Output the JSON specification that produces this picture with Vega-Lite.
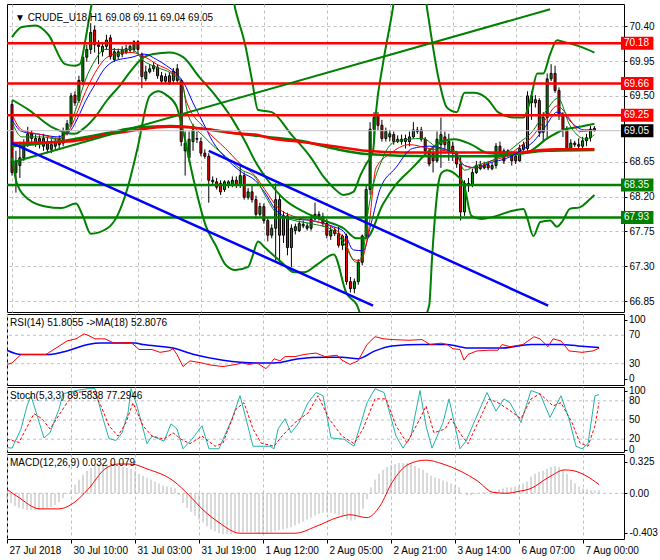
{
"$schema":"https://vega.github.io/schema/vega-lite/v6.json",
"background":"white",
"padding":{"left":3,"top":3,"right":0,"bottom":0},
"bounds":"flush",
"spacing":2,
"config":{
"view":{"stroke":"black","strokeWidth":1},
"font":"Liberation Sans",
"axis":{"labelFont":"Liberation Sans","labelFontSize":10,"labelColor":"black","gridColor":"#c0c0c0","gridDash":[3,3],"gridWidth":1,"domain":false,"tickColor":"black"},
"text":{"font":"Liberation Sans","fontSize":10,"color":"black","align":"left","baseline":"top"}
},
"datasets":{
"candles":[
{"i":0,"open":69.39,"high":69.44,"low":68.47,"close":68.51},
{"i":1,"open":68.51,"high":68.79,"low":68.25,"close":68.66},
{"i":2,"open":68.6,"high":68.91,"low":68.44,"close":68.7},
{"i":3,"open":68.7,"high":68.94,"low":68.66,"close":68.85},
{"i":4,"open":68.87,"high":69.1,"low":68.84,"close":69.01},
{"i":5,"open":69.01,"high":69.06,"low":68.89,"close":68.95},
{"i":6,"open":68.89,"high":69.0,"low":68.84,"close":68.95},
{"i":7,"open":68.95,"high":68.99,"low":68.82,"close":68.89},
{"i":8,"open":68.95,"high":69.01,"low":68.79,"close":68.85},
{"i":9,"open":68.91,"high":68.96,"low":68.76,"close":68.81},
{"i":10,"open":68.81,"high":68.94,"low":68.76,"close":68.87},
{"i":11,"open":68.85,"high":68.96,"low":68.81,"close":68.91},
{"i":12,"open":68.94,"high":68.99,"low":68.82,"close":68.87},
{"i":13,"open":68.89,"high":69.09,"low":68.85,"close":69.04},
{"i":14,"open":69.01,"high":69.19,"low":68.99,"close":69.14},
{"i":15,"open":69.14,"high":69.54,"low":69.1,"close":69.5},
{"i":16,"open":69.51,"high":69.56,"low":69.37,"close":69.41},
{"i":17,"open":69.44,"high":69.76,"low":69.41,"close":69.7},
{"i":18,"open":69.69,"high":70.04,"low":69.64,"close":70.0},
{"i":19,"open":70.0,"high":70.16,"low":69.94,"close":70.1},
{"i":20,"open":70.1,"high":70.44,"low":70.04,"close":70.32},
{"i":21,"open":70.35,"high":70.41,"low":70.06,"close":70.16},
{"i":22,"open":70.16,"high":70.22,"low":69.91,"close":70.14},
{"i":23,"open":70.07,"high":70.19,"low":70.01,"close":70.14},
{"i":24,"open":70.14,"high":70.29,"low":70.1,"close":70.22},
{"i":25,"open":70.25,"high":70.29,"low":69.97,"close":70.01},
{"i":26,"open":69.97,"high":70.12,"low":69.94,"close":70.07},
{"i":27,"open":70.01,"high":70.11,"low":69.97,"close":70.07},
{"i":28,"open":70.04,"high":70.14,"low":70.0,"close":70.1},
{"i":29,"open":70.06,"high":70.16,"low":70.04,"close":70.11},
{"i":30,"open":70.09,"high":70.16,"low":70.06,"close":70.14},
{"i":31,"open":70.1,"high":70.22,"low":70.06,"close":70.2},
{"i":32,"open":70.2,"high":70.22,"low":70.04,"close":70.1},
{"i":33,"open":70.04,"high":70.06,"low":69.6,"close":69.75},
{"i":34,"open":69.72,"high":69.89,"low":69.69,"close":69.81},
{"i":35,"open":69.81,"high":69.91,"low":69.79,"close":69.85},
{"i":36,"open":69.85,"high":69.94,"low":69.81,"close":69.89},
{"i":37,"open":69.87,"high":69.91,"low":69.72,"close":69.76},
{"i":38,"open":69.76,"high":69.81,"low":69.66,"close":69.69},
{"i":39,"open":69.69,"high":69.79,"low":69.66,"close":69.75},
{"i":40,"open":69.76,"high":69.81,"low":69.64,"close":69.66},
{"i":41,"open":69.7,"high":69.86,"low":69.66,"close":69.82},
{"i":42,"open":69.85,"high":69.91,"low":69.66,"close":69.7},
{"i":43,"open":69.7,"high":69.72,"low":68.85,"close":68.91},
{"i":44,"open":68.79,"high":69.04,"low":68.47,"close":68.89},
{"i":45,"open":68.7,"high":69.04,"low":68.64,"close":68.94},
{"i":46,"open":68.91,"high":69.14,"low":68.79,"close":69.06},
{"i":47,"open":68.94,"high":69.04,"low":68.89,"close":68.95},
{"i":48,"open":68.91,"high":68.96,"low":68.72,"close":68.76},
{"i":49,"open":68.76,"high":68.81,"low":68.69,"close":68.72},
{"i":50,"open":68.72,"high":68.76,"low":68.12,"close":68.41},
{"i":51,"open":68.39,"high":68.46,"low":68.34,"close":68.41},
{"i":52,"open":68.39,"high":68.44,"low":68.29,"close":68.32},
{"i":53,"open":68.37,"high":68.41,"low":68.22,"close":68.26},
{"i":54,"open":68.29,"high":68.41,"low":68.26,"close":68.39},
{"i":55,"open":68.35,"high":68.41,"low":68.31,"close":68.39},
{"i":56,"open":68.35,"high":68.46,"low":68.32,"close":68.41},
{"i":57,"open":68.41,"high":68.46,"low":68.31,"close":68.35},
{"i":58,"open":68.35,"high":68.6,"low":68.31,"close":68.47},
{"i":59,"open":68.47,"high":68.51,"low":68.16,"close":68.19},
{"i":60,"open":68.19,"high":68.31,"low":68.16,"close":68.26},
{"i":61,"open":68.26,"high":68.34,"low":68.12,"close":68.16},
{"i":62,"open":68.16,"high":68.21,"low":67.91,"close":67.97},
{"i":63,"open":67.97,"high":68.12,"low":67.94,"close":68.07},
{"i":64,"open":68.07,"high":68.11,"low":67.85,"close":67.89},
{"i":65,"open":67.89,"high":67.92,"low":67.62,"close":67.7},
{"i":66,"open":67.7,"high":67.84,"low":67.66,"close":67.79},
{"i":67,"open":67.79,"high":68.37,"low":67.37,"close":68.16},
{"i":68,"open":68.16,"high":68.22,"low":67.35,"close":67.7},
{"i":69,"open":67.7,"high":68.01,"low":67.6,"close":67.95},
{"i":70,"open":67.95,"high":67.99,"low":67.44,"close":67.54},
{"i":71,"open":67.54,"high":67.84,"low":67.29,"close":67.79},
{"i":72,"open":67.76,"high":67.85,"low":67.71,"close":67.81},
{"i":73,"open":67.76,"high":67.89,"low":67.74,"close":67.85},
{"i":74,"open":67.82,"high":67.89,"low":67.79,"close":67.84},
{"i":75,"open":67.79,"high":67.86,"low":67.76,"close":67.82},
{"i":76,"open":67.79,"high":67.96,"low":67.76,"close":67.91},
{"i":77,"open":67.91,"high":68.12,"low":67.89,"close":67.97},
{"i":78,"open":67.97,"high":68.01,"low":67.89,"close":67.94},
{"i":79,"open":67.94,"high":67.99,"low":67.81,"close":67.85},
{"i":80,"open":67.85,"high":67.91,"low":67.66,"close":67.7},
{"i":81,"open":67.69,"high":67.81,"low":67.64,"close":67.76},
{"i":82,"open":67.76,"high":67.8,"low":67.69,"close":67.72},
{"i":83,"open":67.72,"high":67.81,"low":67.54,"close":67.57},
{"i":84,"open":67.57,"high":67.71,"low":67.51,"close":67.69},
{"i":85,"open":67.69,"high":67.72,"low":67.06,"close":67.1},
{"i":86,"open":67.1,"high":67.16,"low":66.96,"close":67.01},
{"i":87,"open":67.01,"high":67.14,"low":66.95,"close":67.1},
{"i":88,"open":67.1,"high":67.39,"low":67.06,"close":67.35},
{"i":89,"open":67.35,"high":67.71,"low":67.31,"close":67.69},
{"i":90,"open":67.69,"high":68.35,"low":67.66,"close":68.29},
{"i":91,"open":68.29,"high":69.16,"low":68.22,"close":69.07},
{"i":92,"open":69.07,"high":69.29,"low":68.91,"close":69.22},
{"i":93,"open":69.25,"high":69.29,"low":69.06,"close":69.12},
{"i":94,"open":69.12,"high":69.19,"low":68.91,"close":68.95},
{"i":95,"open":68.95,"high":69.09,"low":68.91,"close":69.04},
{"i":96,"open":68.97,"high":69.06,"low":68.91,"close":69.01},
{"i":97,"open":69.0,"high":69.04,"low":68.87,"close":68.91},
{"i":98,"open":68.91,"high":68.99,"low":68.89,"close":68.94},
{"i":99,"open":68.94,"high":69.0,"low":68.87,"close":68.91},
{"i":100,"open":68.91,"high":69.0,"low":68.82,"close":68.95},
{"i":101,"open":68.91,"high":69.04,"low":68.85,"close":68.97},
{"i":102,"open":68.97,"high":69.16,"low":68.95,"close":69.06},
{"i":103,"open":69.04,"high":69.1,"low":69.01,"close":69.06},
{"i":104,"open":69.06,"high":69.1,"low":68.91,"close":68.94},
{"i":105,"open":68.94,"high":68.97,"low":68.75,"close":68.79},
{"i":106,"open":68.79,"high":68.82,"low":68.59,"close":68.62},
{"i":107,"open":68.76,"high":68.85,"low":68.51,"close":68.66},
{"i":108,"open":68.66,"high":69.04,"low":68.64,"close":68.94},
{"i":109,"open":68.87,"high":69.22,"low":68.57,"close":69.0},
{"i":110,"open":68.97,"high":69.04,"low":68.79,"close":68.87},
{"i":111,"open":68.79,"high":69.01,"low":68.66,"close":68.91},
{"i":112,"open":68.85,"high":68.91,"low":68.66,"close":68.76},
{"i":113,"open":68.76,"high":68.79,"low":68.57,"close":68.62},
{"i":114,"open":68.62,"high":68.72,"low":67.89,"close":68.0},
{"i":115,"open":68.0,"high":68.41,"low":67.95,"close":68.37},
{"i":116,"open":68.34,"high":68.44,"low":68.26,"close":68.37},
{"i":117,"open":68.35,"high":68.56,"low":68.32,"close":68.51},
{"i":118,"open":68.51,"high":68.66,"low":68.49,"close":68.6},
{"i":119,"open":68.56,"high":68.66,"low":68.54,"close":68.61},
{"i":120,"open":68.57,"high":68.65,"low":68.55,"close":68.61},
{"i":121,"open":68.61,"high":68.66,"low":68.54,"close":68.57},
{"i":122,"open":68.56,"high":68.64,"low":68.54,"close":68.6},
{"i":123,"open":68.6,"high":68.89,"low":68.56,"close":68.85},
{"i":124,"open":68.85,"high":68.91,"low":68.71,"close":68.75},
{"i":125,"open":68.79,"high":68.82,"low":68.62,"close":68.66},
{"i":126,"open":68.79,"high":68.81,"low":68.71,"close":68.76},
{"i":127,"open":68.76,"high":68.79,"low":68.6,"close":68.66},
{"i":128,"open":68.72,"high":68.76,"low":68.62,"close":68.66},
{"i":129,"open":68.66,"high":68.87,"low":68.65,"close":68.82},
{"i":130,"open":68.81,"high":68.91,"low":68.79,"close":68.87},
{"i":131,"open":68.82,"high":69.56,"low":68.79,"close":69.5},
{"i":132,"open":69.5,"high":69.56,"low":69.19,"close":69.41},
{"i":133,"open":69.41,"high":69.51,"low":69.35,"close":69.45},
{"i":134,"open":69.44,"high":69.47,"low":68.97,"close":69.03},
{"i":135,"open":69.03,"high":69.29,"low":68.91,"close":69.22},
{"i":136,"open":69.22,"high":69.79,"low":68.94,"close":69.72},
{"i":137,"open":69.72,"high":69.91,"low":69.69,"close":69.79},
{"i":138,"open":69.79,"high":69.89,"low":69.54,"close":69.57},
{"i":139,"open":69.57,"high":69.61,"low":69.19,"close":69.25},
{"i":140,"open":69.25,"high":69.29,"low":68.97,"close":69.07},
{"i":141,"open":69.07,"high":69.11,"low":68.79,"close":68.82},
{"i":142,"open":68.82,"high":68.94,"low":68.79,"close":68.89},
{"i":143,"open":68.89,"high":68.92,"low":68.84,"close":68.87},
{"i":144,"open":68.87,"high":68.95,"low":68.81,"close":68.85},
{"i":145,"open":68.85,"high":68.97,"low":68.81,"close":68.92},
{"i":146,"open":68.92,"high":69.01,"low":68.85,"close":68.96},
{"i":147,"open":68.96,"high":69.11,"low":68.91,"close":69.07},
{"i":148,"open":69.08,"high":69.11,"low":69.04,"close":69.05}
],
"blueThin":[{"i":0,"v":69.19},{"i":2.5,"v":69.04},{"i":7.5,"v":69.0},{"i":11.75,"v":68.97},{"i":13.5,"v":69.01},{"i":15,"v":69.06},{"i":16.75,"v":69.22},{"i":18.75,"v":69.44},{"i":21,"v":69.64},{"i":23.5,"v":69.85},{"i":26,"v":69.95},{"i":30.5,"v":70.0},{"i":33.5,"v":70.04},{"i":36.75,"v":69.97},{"i":39.25,"v":69.89},{"i":41.75,"v":69.79},{"i":43.75,"v":69.66},{"i":46,"v":69.41},{"i":48.5,"v":69.16},{"i":51,"v":68.91},{"i":54.25,"v":68.7},{"i":58.5,"v":68.51},{"i":61.75,"v":68.41},{"i":64.25,"v":68.25},{"i":67.5,"v":68.0},{"i":71.75,"v":67.91},{"i":76,"v":67.89},{"i":81.75,"v":67.81},{"i":84.25,"v":67.75},{"i":86.75,"v":67.51},{"i":89.25,"v":67.5},{"i":91.25,"v":67.85},{"i":93.5,"v":68.29},{"i":97.5,"v":68.57},{"i":101.75,"v":68.82},{"i":106,"v":68.85},{"i":112.5,"v":68.75},{"i":115,"v":68.6},{"i":118,"v":68.57},{"i":121.75,"v":68.64},{"i":125.5,"v":68.69},{"i":129.25,"v":68.79},{"i":132.5,"v":68.91},{"i":135.5,"v":69.1},{"i":138.5,"v":69.29},{"i":140.5,"v":69.25},{"i":142.5,"v":69.14},{"i":145.5,"v":69.06},{"i":148,"v":69.06}],
"redThin":[{"i":0,"v":69.26},{"i":2.5,"v":69.06},{"i":7.5,"v":69.0},{"i":11.75,"v":68.95},{"i":13.5,"v":68.99},{"i":15,"v":69.1},{"i":16.75,"v":69.31},{"i":18.75,"v":69.56},{"i":21,"v":69.79},{"i":23.5,"v":69.97},{"i":26,"v":70.04},{"i":30.5,"v":70.06},{"i":33.5,"v":70.01},{"i":36.75,"v":69.91},{"i":40.5,"v":69.81},{"i":43.25,"v":69.66},{"i":44.25,"v":69.44},{"i":49.25,"v":69.07},{"i":54.25,"v":68.82},{"i":58.5,"v":68.6},{"i":61.75,"v":68.47},{"i":64.25,"v":68.29},{"i":67.5,"v":68.06},{"i":71.75,"v":67.94},{"i":76,"v":67.89},{"i":81.75,"v":67.79},{"i":84.25,"v":67.66},{"i":86.75,"v":67.39},{"i":88.5,"v":67.37},{"i":90.5,"v":67.72},{"i":92.5,"v":68.57},{"i":96,"v":68.75},{"i":101,"v":68.87},{"i":106,"v":68.82},{"i":112.5,"v":68.76},{"i":115,"v":68.6},{"i":118,"v":68.57},{"i":121.75,"v":68.66},{"i":125.5,"v":68.72},{"i":129.25,"v":68.85},{"i":131.75,"v":68.95},{"i":135.5,"v":69.19},{"i":138.5,"v":69.37},{"i":140.5,"v":69.29},{"i":142.5,"v":69.14},{"i":144.25,"v":69.04},{"i":148,"v":69.06}],
"greenThin":[{"i":0,"v":69.16},{"i":2.5,"v":68.97},{"i":7.5,"v":68.97},{"i":11.75,"v":68.94},{"i":13.5,"v":69.01},{"i":15,"v":69.16},{"i":16.75,"v":69.41},{"i":18.75,"v":69.72},{"i":21,"v":69.95},{"i":23.5,"v":70.1},{"i":26,"v":70.1},{"i":30.5,"v":70.1},{"i":33.5,"v":69.95},{"i":36.75,"v":69.87},{"i":40.5,"v":69.79},{"i":43.25,"v":69.66},{"i":44.75,"v":69.25},{"i":49.25,"v":68.95},{"i":54.25,"v":68.72},{"i":58.5,"v":68.54},{"i":61.75,"v":68.45},{"i":64.25,"v":68.22},{"i":67.5,"v":67.97},{"i":71.75,"v":67.89},{"i":76,"v":67.85},{"i":81.75,"v":67.76},{"i":84.25,"v":67.6},{"i":87.5,"v":67.35},{"i":89.25,"v":67.47},{"i":90,"v":67.82},{"i":94.25,"v":68.7},{"i":97.5,"v":68.91},{"i":104.25,"v":68.95},{"i":108.5,"v":68.82},{"i":112.5,"v":68.79},{"i":115,"v":68.54},{"i":118,"v":68.6},{"i":121.75,"v":68.66},{"i":125.5,"v":68.76},{"i":129.25,"v":68.91},{"i":131.75,"v":69.01},{"i":135.5,"v":69.29},{"i":138.75,"v":69.47},{"i":141.75,"v":69.12},{"i":144.25,"v":68.97},{"i":146,"v":68.94},{"i":148,"v":69.0}],
"redThick":[{"i":0,"v":68.89},{"i":14.25,"v":68.91},{"i":24.25,"v":69.0},{"i":31.75,"v":69.06},{"i":40,"v":69.1},{"i":50,"v":69.07},{"i":56,"v":69.02},{"i":61.75,"v":69.0},{"i":66,"v":68.95},{"i":74.25,"v":68.9},{"i":81.75,"v":68.85},{"i":90,"v":68.79},{"i":99.25,"v":68.77},{"i":115,"v":68.77},{"i":128.5,"v":68.77},{"i":134.25,"v":68.8},{"i":138.5,"v":68.81},{"i":148,"v":68.81}],
"greenThick":[{"i":0,"v":68.85},{"i":11.75,"v":68.91},{"i":24.25,"v":69.02},{"i":31.75,"v":69.09},{"i":40.5,"v":69.11},{"i":49.25,"v":69.07},{"i":57.5,"v":69.01},{"i":66.75,"v":68.96},{"i":74.25,"v":68.91},{"i":81.75,"v":68.82},{"i":90,"v":68.75},{"i":106.75,"v":68.72},{"i":123.5,"v":68.72},{"i":128.5,"v":68.75},{"i":136,"v":68.79},{"i":148,"v":68.8}],
"bbUpper":[{"i":0,"v":70.26},{"i":2.5,"v":70.39},{"i":6,"v":70.41},{"i":9.25,"v":70.29},{"i":13.5,"v":69.91},{"i":16,"v":69.89},{"i":17.25,"v":69.91},{"i":18.75,"v":70.25},{"i":20,"v":70.62},{"i":21.25,"v":70.91},{"i":36.75,"v":71.41},{"i":55.5,"v":70.91},{"i":56.75,"v":70.62},{"i":59.25,"v":70.16},{"i":61,"v":69.7},{"i":62.5,"v":69.32},{"i":66,"v":69.29},{"i":71,"v":69.0},{"i":76,"v":68.7},{"i":79.25,"v":68.45},{"i":81.75,"v":68.31},{"i":84.25,"v":68.22},{"i":86.75,"v":68.26},{"i":88.5,"v":68.47},{"i":90,"v":68.62},{"i":91.75,"v":68.79},{"i":92.5,"v":69.29},{"i":94.25,"v":69.91},{"i":96.75,"v":70.62},{"i":98,"v":71.04},{"i":104.25,"v":71.04},{"i":105.5,"v":70.62},{"i":108.5,"v":69.7},{"i":110.5,"v":69.35},{"i":113,"v":69.29},{"i":115,"v":69.54},{"i":117.5,"v":69.54},{"i":121,"v":69.45},{"i":123.5,"v":69.29},{"i":127.5,"v":69.22},{"i":130,"v":69.22},{"i":131.75,"v":69.45},{"i":133.5,"v":69.79},{"i":135,"v":69.79},{"i":136.75,"v":70.04},{"i":138.5,"v":70.22},{"i":140,"v":70.2},{"i":144.25,"v":70.14},{"i":148,"v":70.06}],
"bbMiddle":[{"i":0,"v":69.45},{"i":4.25,"v":69.32},{"i":10,"v":69.1},{"i":16,"v":69.01},{"i":18,"v":69.07},{"i":21,"v":69.22},{"i":24.25,"v":69.45},{"i":27.5,"v":69.64},{"i":30,"v":69.81},{"i":33.5,"v":70.0},{"i":36,"v":70.04},{"i":40,"v":70.06},{"i":43.5,"v":70.0},{"i":47.5,"v":69.75},{"i":51.75,"v":69.5},{"i":56,"v":69.2},{"i":59.25,"v":68.91},{"i":61.75,"v":68.66},{"i":65,"v":68.41},{"i":69.25,"v":68.16},{"i":74.25,"v":68.0},{"i":79.25,"v":67.89},{"i":84.25,"v":67.79},{"i":87.5,"v":67.66},{"i":90,"v":67.66},{"i":94.25,"v":68.1},{"i":97.5,"v":68.35},{"i":101.75,"v":68.57},{"i":106,"v":68.79},{"i":109.25,"v":68.91},{"i":112.5,"v":68.94},{"i":116.75,"v":68.87},{"i":121,"v":68.76},{"i":125,"v":68.75},{"i":129.25,"v":68.76},{"i":131.75,"v":68.79},{"i":136,"v":68.95},{"i":140,"v":69.06},{"i":144.25,"v":69.1},{"i":148,"v":69.14}],
"bbLower":[{"i":0,"v":68.7},{"i":1.25,"v":68.37},{"i":4.25,"v":68.16},{"i":8.5,"v":68.07},{"i":12.5,"v":68.05},{"i":16.25,"v":68.11},{"i":18,"v":67.95},{"i":20,"v":67.72},{"i":24.25,"v":67.79},{"i":26.75,"v":67.95},{"i":29.25,"v":68.29},{"i":31.75,"v":68.79},{"i":35,"v":69.5},{"i":37.25,"v":69.56},{"i":39.25,"v":69.51},{"i":41.75,"v":69.37},{"i":43.5,"v":69.04},{"i":46,"v":68.45},{"i":49.25,"v":67.82},{"i":51.75,"v":67.57},{"i":54.25,"v":67.32},{"i":56.75,"v":67.25},{"i":60,"v":67.29},{"i":61.25,"v":67.45},{"i":62.5,"v":67.62},{"i":64.25,"v":67.54},{"i":68.5,"v":67.35},{"i":71.75,"v":67.22},{"i":74.25,"v":67.22},{"i":77.5,"v":67.32},{"i":81.75,"v":67.45},{"i":85,"v":66.95},{"i":87.5,"v":66.81},{"i":90.5,"v":66.41},{"i":99.25,"v":66.16},{"i":106,"v":66.79},{"i":106.75,"v":67.41},{"i":107.5,"v":67.95},{"i":108.5,"v":68.41},{"i":109.25,"v":68.51},{"i":110.5,"v":68.54},{"i":113.5,"v":68.45},{"i":114.75,"v":68.37},{"i":116.75,"v":67.95},{"i":119.25,"v":67.91},{"i":122.5,"v":67.94},{"i":126.75,"v":68.01},{"i":130,"v":68.04},{"i":131,"v":67.91},{"i":132.5,"v":67.69},{"i":134.25,"v":67.87},{"i":136.75,"v":67.89},{"i":138.5,"v":67.81},{"i":140,"v":67.89},{"i":141.75,"v":68.04},{"i":144.25,"v":68.06},{"i":146.75,"v":68.16},{"i":148,"v":68.22}],
"trendGreen":[{"i":0,"v":68.64},{"i":136.75,"v":70.62}],
"channelLower":[{"i":0,"v":68.89},{"i":91.75,"v":66.79}],
"channelUpper":[{"i":50,"v":68.79},{"i":136.25,"v":66.79}],
"levels":[{"price":70.18,"kind":"resistance"},{"price":69.66,"kind":"resistance"},{"price":69.25,"kind":"resistance"},{"price":68.35,"kind":"support"},{"price":67.93,"kind":"support"}],
"bid":[{"price":69.05,"kind":"bid"}],
"rsiScale":[{"v":91,"label":"100"},{"v":70,"label":"70"},{"v":30,"label":"30"},{"v":9,"label":"0"}],
"stochScale":[{"v":95,"label":"100"},{"v":80,"label":"80"},{"v":50,"label":"50"},{"v":20,"label":"20"},{"v":3,"label":"0"}],
"rsi":[{"i":0,"v":29},{"i":1.25,"v":31},{"i":3.5,"v":43},{"i":9.75,"v":43},{"i":15,"v":62},{"i":17.25,"v":65},{"i":19.25,"v":72},{"i":20.25,"v":70},{"i":22,"v":65},{"i":24.5,"v":65},{"i":26.75,"v":59},{"i":31,"v":60},{"i":33,"v":50},{"i":36.25,"v":50},{"i":38.25,"v":46},{"i":40.5,"v":48},{"i":41.5,"v":51},{"i":42.5,"v":43},{"i":44,"v":26},{"i":45.75,"v":34},{"i":48.75,"v":31},{"i":51,"v":28},{"i":54,"v":26},{"i":57.25,"v":29},{"i":58.75,"v":31},{"i":60.5,"v":29},{"i":62.5,"v":31},{"i":64.75,"v":23},{"i":65.75,"v":29},{"i":66.75,"v":37},{"i":68.25,"v":34},{"i":69.5,"v":40},{"i":72,"v":40},{"i":74.25,"v":43},{"i":77.25,"v":45},{"i":79.5,"v":40},{"i":82.5,"v":42},{"i":83.75,"v":35},{"i":85.75,"v":29},{"i":87.75,"v":34},{"i":90,"v":57},{"i":92,"v":68},{"i":94.25,"v":65},{"i":96.25,"v":64},{"i":100.5,"v":63},{"i":103.75,"v":64},{"i":105.75,"v":57},{"i":108.5,"v":59},{"i":110,"v":57},{"i":111.5,"v":51},{"i":113.25,"v":50},{"i":114.25,"v":35},{"i":115.25,"v":43},{"i":117.5,"v":48},{"i":120.5,"v":49},{"i":122.75,"v":49},{"i":123.75,"v":57},{"i":125.75,"v":54},{"i":129,"v":57},{"i":131.75,"v":68},{"i":133.25,"v":65},{"i":135.25,"v":54},{"i":136.5,"v":65},{"i":138.5,"v":62},{"i":140.5,"v":48},{"i":143.75,"v":46},{"i":146.5,"v":48},{"i":148,"v":51.8}],
"rsiMa":[{"i":0,"v":49},{"i":3.5,"v":43},{"i":10.75,"v":43},{"i":15,"v":48},{"i":20.25,"v":57},{"i":23.5,"v":59},{"i":32,"v":59},{"i":34,"v":57},{"i":41.5,"v":52},{"i":46.75,"v":43},{"i":54,"v":35},{"i":62.5,"v":31},{"i":66.75,"v":31},{"i":73,"v":37},{"i":79.5,"v":39},{"i":83.75,"v":39},{"i":87.75,"v":37},{"i":92,"v":48},{"i":96.25,"v":55},{"i":103.75,"v":57},{"i":110,"v":57},{"i":115.25,"v":52},{"i":123.75,"v":52},{"i":131,"v":57},{"i":138.5,"v":57},{"i":142.75,"v":55},{"i":148,"v":52.8}],
"stochK":[{"i":0,"v":7},{"i":1.25,"v":6},{"i":3.5,"v":36},{"i":5,"v":72},{"i":6,"v":88},{"i":9.25,"v":22},{"i":10.75,"v":30},{"i":13,"v":67},{"i":14,"v":91},{"i":17.25,"v":96},{"i":20.25,"v":99},{"i":22,"v":99},{"i":24,"v":52},{"i":25.5,"v":21},{"i":27.25,"v":18},{"i":28.75,"v":30},{"i":30.25,"v":61},{"i":31,"v":99},{"i":32.5,"v":72},{"i":35,"v":13},{"i":36.25,"v":25},{"i":39.25,"v":17},{"i":41,"v":44},{"i":42.5,"v":36},{"i":44,"v":5},{"i":46.25,"v":20},{"i":48.75,"v":41},{"i":50.5,"v":5},{"i":53,"v":5},{"i":56.25,"v":52},{"i":58.25,"v":88},{"i":60,"v":46},{"i":61.5,"v":9},{"i":65.75,"v":9},{"i":66.75,"v":5},{"i":67.75,"v":36},{"i":69.5,"v":52},{"i":71,"v":30},{"i":73,"v":46},{"i":75.25,"v":77},{"i":77.25,"v":93},{"i":79,"v":88},{"i":81,"v":22},{"i":84.25,"v":20},{"i":86.75,"v":9},{"i":90,"v":77},{"i":92,"v":99},{"i":94.25,"v":93},{"i":97.25,"v":25},{"i":99,"v":6},{"i":101,"v":25},{"i":103.25,"v":96},{"i":104.75,"v":41},{"i":106.25,"v":6},{"i":109,"v":46},{"i":110.5,"v":83},{"i":113.25,"v":5},{"i":114.75,"v":17},{"i":116.75,"v":46},{"i":120,"v":93},{"i":122.25,"v":64},{"i":124.25,"v":83},{"i":125.75,"v":77},{"i":128.5,"v":46},{"i":131,"v":96},{"i":133.25,"v":91},{"i":135.75,"v":54},{"i":138.5,"v":88},{"i":140.5,"v":52},{"i":142.25,"v":9},{"i":143.75,"v":5},{"i":145.25,"v":13},{"i":147,"v":88},{"i":148,"v":89.6}],
"stochD":[{"i":0,"v":20},{"i":3,"v":15},{"i":6.75,"v":60},{"i":8.75,"v":52},{"i":10.75,"v":36},{"i":15,"v":77},{"i":17.25,"v":93},{"i":21.5,"v":96},{"i":23.5,"v":72},{"i":25.5,"v":41},{"i":27.75,"v":25},{"i":29.75,"v":46},{"i":31.5,"v":77},{"i":34,"v":41},{"i":36.25,"v":25},{"i":39.25,"v":20},{"i":41.5,"v":30},{"i":43.5,"v":20},{"i":45.75,"v":13},{"i":48.75,"v":25},{"i":52,"v":9},{"i":54,"v":14},{"i":57.25,"v":67},{"i":59.25,"v":77},{"i":61.5,"v":36},{"i":63.5,"v":14},{"i":66.75,"v":9},{"i":68.75,"v":25},{"i":72,"v":46},{"i":75.25,"v":61},{"i":77.75,"v":88},{"i":80.5,"v":52},{"i":83.75,"v":25},{"i":86.75,"v":13},{"i":89,"v":36},{"i":92,"v":83},{"i":94.75,"v":83},{"i":97.25,"v":41},{"i":100,"v":14},{"i":103.25,"v":52},{"i":104.75,"v":72},{"i":106.75,"v":30},{"i":109.5,"v":36},{"i":111,"v":52},{"i":113.75,"v":25},{"i":115.25,"v":13},{"i":118.5,"v":56},{"i":120.5,"v":83},{"i":122.75,"v":77},{"i":125.25,"v":67},{"i":128.5,"v":52},{"i":131,"v":83},{"i":133.25,"v":91},{"i":136.5,"v":72},{"i":138.5,"v":77},{"i":141.25,"v":46},{"i":143.25,"v":14},{"i":145.25,"v":9},{"i":147,"v":41},{"i":148,"v":77.3}],
"macd":[{"i":0,"v":-0.06},{"i":1,"v":-0.1},{"i":2,"v":-0.13},{"i":3,"v":-0.15},{"i":4,"v":-0.16},{"i":5,"v":-0.17},{"i":6,"v":-0.17},{"i":7,"v":-0.17},{"i":8,"v":-0.17},{"i":9,"v":-0.16},{"i":10,"v":-0.15},{"i":11,"v":-0.14},{"i":12,"v":-0.12},{"i":13,"v":-0.09},{"i":14,"v":-0.05},{"i":15,"v":-0.01},{"i":16,"v":0.04},{"i":17,"v":0.09},{"i":18,"v":0.14},{"i":19,"v":0.19},{"i":20,"v":0.23},{"i":21,"v":0.26},{"i":22,"v":0.28},{"i":23,"v":0.29},{"i":24,"v":0.3},{"i":25,"v":0.3},{"i":26,"v":0.3},{"i":27,"v":0.29},{"i":28,"v":0.28},{"i":29,"v":0.27},{"i":30,"v":0.26},{"i":31,"v":0.25},{"i":32,"v":0.23},{"i":33,"v":0.2},{"i":34,"v":0.18},{"i":35,"v":0.16},{"i":36,"v":0.14},{"i":37,"v":0.12},{"i":38,"v":0.1},{"i":39,"v":0.08},{"i":40,"v":0.07},{"i":41,"v":0.06},{"i":42,"v":0.05},{"i":43,"v":-0.02},{"i":44,"v":-0.1},{"i":45,"v":-0.15},{"i":46,"v":-0.19},{"i":47,"v":-0.23},{"i":48,"v":-0.27},{"i":49,"v":-0.3},{"i":50,"v":-0.34},{"i":51,"v":-0.37},{"i":52,"v":-0.39},{"i":53,"v":-0.41},{"i":54,"v":-0.42},{"i":55,"v":-0.42},{"i":56,"v":-0.42},{"i":57,"v":-0.41},{"i":58,"v":-0.4},{"i":59,"v":-0.4},{"i":60,"v":-0.4},{"i":61,"v":-0.4},{"i":62,"v":-0.4},{"i":63,"v":-0.41},{"i":64,"v":-0.41},{"i":65,"v":-0.41},{"i":66,"v":-0.4},{"i":67,"v":-0.39},{"i":68,"v":-0.38},{"i":69,"v":-0.37},{"i":70,"v":-0.36},{"i":71,"v":-0.35},{"i":72,"v":-0.33},{"i":73,"v":-0.31},{"i":74,"v":-0.29},{"i":75,"v":-0.27},{"i":76,"v":-0.25},{"i":77,"v":-0.23},{"i":78,"v":-0.21},{"i":79,"v":-0.2},{"i":80,"v":-0.2},{"i":81,"v":-0.2},{"i":82,"v":-0.21},{"i":83,"v":-0.22},{"i":84,"v":-0.24},{"i":85,"v":-0.27},{"i":86,"v":-0.28},{"i":87,"v":-0.27},{"i":88,"v":-0.23},{"i":89,"v":-0.16},{"i":90,"v":-0.06},{"i":91,"v":0.06},{"i":92,"v":0.14},{"i":93,"v":0.2},{"i":94,"v":0.24},{"i":95,"v":0.27},{"i":96,"v":0.29},{"i":97,"v":0.3},{"i":98,"v":0.31},{"i":99,"v":0.31},{"i":100,"v":0.31},{"i":101,"v":0.3},{"i":102,"v":0.28},{"i":103,"v":0.26},{"i":104,"v":0.24},{"i":105,"v":0.21},{"i":106,"v":0.18},{"i":107,"v":0.16},{"i":108,"v":0.15},{"i":109,"v":0.13},{"i":110,"v":0.12},{"i":111,"v":0.1},{"i":112,"v":0.08},{"i":113,"v":0.06},{"i":114,"v":0.0},{"i":115,"v":-0.02},{"i":116,"v":-0.02},{"i":117,"v":-0.01},{"i":118,"v":0.0},{"i":119,"v":0.01},{"i":120,"v":0.01},{"i":121,"v":0.01},{"i":122,"v":0.02},{"i":123,"v":0.04},{"i":124,"v":0.05},{"i":125,"v":0.06},{"i":126,"v":0.06},{"i":127,"v":0.07},{"i":128,"v":0.08},{"i":129,"v":0.1},{"i":130,"v":0.12},{"i":131,"v":0.17},{"i":132,"v":0.2},{"i":133,"v":0.22},{"i":134,"v":0.23},{"i":135,"v":0.25},{"i":136,"v":0.27},{"i":137,"v":0.28},{"i":138,"v":0.27},{"i":139,"v":0.24},{"i":140,"v":0.2},{"i":141,"v":0.14},{"i":142,"v":0.1},{"i":143,"v":0.07},{"i":144,"v":0.05},{"i":145,"v":0.04},{"i":146,"v":0.03},{"i":147,"v":0.03},{"i":148,"v":0.032}],
"macdSignal":[{"i":0,"v":0.04},{"i":2.5,"v":-0.03},{"i":8.25,"v":-0.16},{"i":13,"v":-0.16},{"i":16.25,"v":-0.11},{"i":20.25,"v":0.04},{"i":24.5,"v":0.25},{"i":27.75,"v":0.3},{"i":31,"v":0.3},{"i":35,"v":0.25},{"i":41.5,"v":0.13},{"i":45.75,"v":-0.03},{"i":48.75,"v":-0.16},{"i":53,"v":-0.3},{"i":58.25,"v":-0.41},{"i":64.75,"v":-0.41},{"i":72,"v":-0.41},{"i":77.25,"v":-0.34},{"i":82.5,"v":-0.25},{"i":85.75,"v":-0.22},{"i":90,"v":-0.25},{"i":93.25,"v":-0.13},{"i":96.25,"v":0.11},{"i":100.5,"v":0.3},{"i":104.75,"v":0.34},{"i":109,"v":0.3},{"i":113.25,"v":0.23},{"i":117.5,"v":0.13},{"i":121.5,"v":0.01},{"i":124.75,"v":0.0},{"i":128,"v":0.02},{"i":131,"v":0.05},{"i":135.25,"v":0.16},{"i":139.5,"v":0.24},{"i":141.75,"v":0.23},{"i":144.75,"v":0.18},{"i":148,"v":0.09}]
},
"vconcat":[
{
"width":617,"height":308,
"layer":[
{"data":{"name":"candles"},"mark":{"type":"rule","color":"black","strokeWidth":1},
"encoding":{
"x":{"field":"i","type":"quantitative","scale":{"domain":[0,154.25],"nice":false,"zero":false},"axis":{"values":[0,8,16,24,32,40,48,56,64,72,80,88,96,104,112,120,128,136,144,152],"labels":false,"ticks":false,"domain":false,"grid":true,"title":null}},
"y":{"field":"low","type":"quantitative","scale":{"domain":[66.7725,70.6225],"nice":false,"zero":false},"axis":{"orient":"right","values":[70.4,69.95,69.5,68.65,68.2,67.75,67.3,66.85],"format":".2f","grid":true,"ticks":true,"tickSize":3,"labelPadding":2,"labelOverlap":false,"domain":false,"title":null}},
"y2":{"field":"high"}}},
{"data":{"name":"candles"},"mark":{"type":"bar","width":2,"stroke":"black","strokeWidth":1},
"encoding":{"x":{"field":"i","type":"quantitative"},"y":{"field":"open","type":"quantitative"},"y2":{"field":"close"},
"fill":{"condition":{"test":"datum.close >= datum.open","value":"#00a000"},"value":"#ff0000"}}},
{"data":{"name":"bbUpper"},"mark":{"type":"line","color":"#008000","strokeWidth":2,"interpolate":"monotone","clip":true},"encoding":{"x":{"field":"i","type":"quantitative"},"y":{"field":"v","type":"quantitative"}}},
{"data":{"name":"bbMiddle"},"mark":{"type":"line","color":"#008000","strokeWidth":2,"interpolate":"monotone","clip":true},"encoding":{"x":{"field":"i","type":"quantitative"},"y":{"field":"v","type":"quantitative"}}},
{"data":{"name":"bbLower"},"mark":{"type":"line","color":"#008000","strokeWidth":2,"interpolate":"monotone","clip":true},"encoding":{"x":{"field":"i","type":"quantitative"},"y":{"field":"v","type":"quantitative"}}},
{"data":{"name":"greenThick"},"mark":{"type":"line","color":"#008000","strokeWidth":2.5,"interpolate":"monotone","clip":true},"encoding":{"x":{"field":"i","type":"quantitative"},"y":{"field":"v","type":"quantitative"}}},
{"data":{"name":"redThick"},"mark":{"type":"line","color":"#ff0000","strokeWidth":2.5,"interpolate":"monotone","clip":true},"encoding":{"x":{"field":"i","type":"quantitative"},"y":{"field":"v","type":"quantitative"}}},
{"data":{"name":"blueThin"},"mark":{"type":"line","color":"#0000ff","strokeWidth":1,"interpolate":"monotone","clip":true},"encoding":{"x":{"field":"i","type":"quantitative"},"y":{"field":"v","type":"quantitative"}}},
{"data":{"name":"redThin"},"mark":{"type":"line","color":"#ff0000","strokeWidth":1,"interpolate":"monotone","clip":true},"encoding":{"x":{"field":"i","type":"quantitative"},"y":{"field":"v","type":"quantitative"}}},
{"data":{"name":"greenThin"},"mark":{"type":"line","color":"#008000","strokeWidth":1,"interpolate":"monotone","clip":true},"encoding":{"x":{"field":"i","type":"quantitative"},"y":{"field":"v","type":"quantitative"}}},
{"data":{"name":"bid"},"mark":{"type":"rule","color":"#c0c0c0","strokeWidth":1},"encoding":{"y":{"field":"price","type":"quantitative"}}},
{"data":{"name":"levels"},"mark":{"type":"rule","strokeWidth":2.5},"encoding":{"y":{"field":"price","type":"quantitative"},"color":{"field":"kind","type":"nominal","scale":{"domain":["resistance","support","bid"],"range":["#ff0000","#008000","#000000"]},"legend":null}}},
{"data":{"name":"trendGreen"},"mark":{"type":"line","color":"#008000","strokeWidth":2,"clip":true},"encoding":{"x":{"field":"i","type":"quantitative"},"y":{"field":"v","type":"quantitative"}}},
{"data":{"name":"channelLower"},"mark":{"type":"line","color":"#0000ff","strokeWidth":2.5,"clip":true},"encoding":{"x":{"field":"i","type":"quantitative"},"y":{"field":"v","type":"quantitative"}}},
{"data":{"name":"channelUpper"},"mark":{"type":"line","color":"#0000ff","strokeWidth":2.5,"clip":true},"encoding":{"x":{"field":"i","type":"quantitative"},"y":{"field":"v","type":"quantitative"}}},
{"data":{"name":"levels"},"mark":{"type":"bar","height":13},"encoding":{"x":{"datum":154.75},"x2":{"datum":163},"y":{"field":"price","type":"quantitative"},"color":{"field":"kind","type":"nominal","legend":null}}},
{"data":{"name":"bid"},"mark":{"type":"bar","height":13},"encoding":{"x":{"datum":154.75},"x2":{"datum":163},"y":{"field":"price","type":"quantitative"},"color":{"field":"kind","type":"nominal","legend":null}}},
{"data":{"name":"levels"},"mark":{"type":"text","color":"white","align":"left","baseline":"middle"},"encoding":{"x":{"datum":155.5},"y":{"field":"price","type":"quantitative"},"text":{"field":"price","format":".2f"}}},
{"data":{"name":"bid"},"mark":{"type":"text","color":"white","align":"left","baseline":"middle"},"encoding":{"x":{"datum":155.5},"y":{"field":"price","type":"quantitative"},"text":{"field":"price","format":".2f"}}},
{"data":{"values":[{"label":"▼ CRUDE_U18,H1  69.08 69.11 69.04 69.05"}]},"mark":{"type":"text","dy":4},"encoding":{"x":{"datum":0.75},"y":{"datum":70.6225},"text":{"field":"label"}}}
]
},
{
"width":617,"height":71,
"layer":[
{"data":{"values":[{"v":30},{"v":70}]},"mark":{"type":"rule","color":"#c0c0c0","strokeDash":[3,3],"strokeWidth":1},"encoding":{"y":{"field":"v","type":"quantitative","scale":{"domain":[0,100],"nice":false,"zero":false},"axis":{"orient":"right","values":[9,30,70,91],"labels":false,"grid":false,"tickSize":3,"title":null}}}},
{"data":{"name":"rsiMa"},"mark":{"type":"line","color":"#0000ff","strokeWidth":1.5,"interpolate":"monotone"},"encoding":{"x":{"field":"i","type":"quantitative","scale":{"domain":[0,154.25],"nice":false,"zero":false},"axis":{"values":[0,8,16,24,32,40,48,56,64,72,80,88,96,104,112,120,128,136,144,152],"labels":false,"ticks":false,"domain":false,"grid":true,"title":null}},"y":{"field":"v","type":"quantitative"}}},
{"data":{"name":"rsi"},"mark":{"type":"line","color":"#ff0000","strokeWidth":1},"encoding":{"x":{"field":"i","type":"quantitative"},"y":{"field":"v","type":"quantitative"}}},
{"data":{"name":"rsiScale"},"mark":{"type":"text","baseline":"middle"},"encoding":{"x":{"datum":155.5},"y":{"field":"v","type":"quantitative"},"text":{"field":"label"}}},
{"data":{"values":[{"label":"RSI(14) 51.8055  ->MA(18) 52.8076"}]},"mark":{"type":"text","dy":4},"encoding":{"x":{"datum":0.75},"y":{"datum":100},"text":{"field":"label"}}}
]
},
{
"width":617,"height":65,
"layer":[
{"data":{"values":[{"v":20},{"v":50},{"v":80}]},"mark":{"type":"rule","color":"#c0c0c0","strokeDash":[3,3],"strokeWidth":1},"encoding":{"y":{"field":"v","type":"quantitative","scale":{"domain":[0,101.6],"nice":false,"zero":false},"axis":{"orient":"right","values":[3,20,50,80,95],"labels":false,"grid":false,"tickSize":3,"title":null}}}},
{"data":{"name":"stochK"},"mark":{"type":"line","color":"#20b2aa","strokeWidth":1},"encoding":{"x":{"field":"i","type":"quantitative","scale":{"domain":[0,154.25],"nice":false,"zero":false},"axis":{"values":[0,8,16,24,32,40,48,56,64,72,80,88,96,104,112,120,128,136,144,152],"labels":false,"ticks":false,"domain":false,"grid":true,"title":null}},"y":{"field":"v","type":"quantitative"}}},
{"data":{"name":"stochD"},"mark":{"type":"line","color":"#ff0000","strokeWidth":1,"strokeDash":[3,2]},"encoding":{"x":{"field":"i","type":"quantitative"},"y":{"field":"v","type":"quantitative"}}},
{"data":{"name":"stochScale"},"mark":{"type":"text","baseline":"middle"},"encoding":{"x":{"datum":155.5},"y":{"field":"v","type":"quantitative"},"text":{"field":"label"}}},
{"data":{"values":[{"label":"Stoch(5,3,3) 89.5838 77.2946"}]},"mark":{"type":"text","dy":4},"encoding":{"x":{"datum":0.75},"y":{"datum":101.6},"text":{"field":"label"}}}
]
},
{
"width":617,"height":85,
"layer":[
{"data":{"values":[{"v":0}]},"mark":{"type":"rule","color":"#c0c0c0","strokeDash":[3,3],"strokeWidth":1},"encoding":{"y":{"field":"v","type":"quantitative","scale":{"domain":[-0.469,0.403],"nice":false,"zero":false},"axis":{"orient":"right","values":[0.325,0,-0.403],"labelExpr":"datum.value == 0 ? '0.00' : datum.value > 0 ? '0.325' : '-0.403'","labelOverlap":false,"grid":false,"tickSize":3,"labelPadding":2,"title":null}}}},
{"data":{"name":"macd"},"mark":{"type":"rule","color":"#b4b4b4","strokeWidth":1},"encoding":{"x":{"field":"i","type":"quantitative","scale":{"domain":[0,154.25],"nice":false,"zero":false},"axis":{"values":[0,8,16,24,32,40,48,56,64,72,80,88,96,104,112,120,128,136,144,152],"grid":true,"domain":false,"tickSize":4,"tickColor":{"condition":{"test":"datum.value % 16 === 0","value":"black"},"value":"transparent"},"labelExpr":"datum.value % 16 === 0 ? ['27 Jul 2018','30 Jul 10:00','31 Jul 03:00','31 Jul 19:00','1 Aug 12:00','2 Aug 05:00','2 Aug 21:00','3 Aug 14:00','6 Aug 07:00','7 Aug 00:00'][datum.value / 16] : ''","labelAlign":"left","labelOffset":2,"labelPadding":2,"labelBound":false,"labelOverlap":false,"labelFlush":false,"title":null}},"y":{"field":"v","type":"quantitative"},"y2":{"datum":0}}},
{"data":{"name":"macdSignal"},"mark":{"type":"line","color":"#ff0000","strokeWidth":1,"interpolate":"monotone"},"encoding":{"x":{"field":"i","type":"quantitative"},"y":{"field":"v","type":"quantitative"}}},
{"data":{"values":[{"label":"MACD(12,26,9) 0.032 0.079"}]},"mark":{"type":"text","dy":4},"encoding":{"x":{"datum":0.75},"y":{"datum":0.403},"text":{"field":"label"}}}
]
}
]
}
